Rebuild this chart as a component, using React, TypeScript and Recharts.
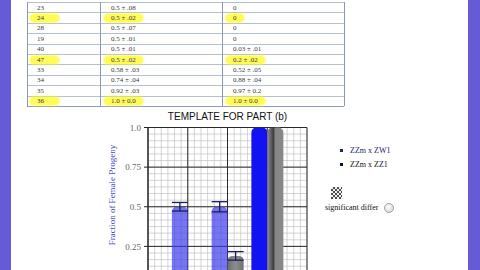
import React from 'react'
import { Bar, BarChart, CartesianGrid, Cell, ErrorBar, XAxis, YAxis } from 'recharts'

// table rows (first column, second column, third column)
const rowIds = ['23', '24', '28', '19', '40', '47', '33', '34', '35', '36']
const colZW = ['0.5 ± .08', '0.5 ± .02', '0.5 ± .07', '0.5 ± .01', '0.5 ± .01', '0.5 ± .02', '0.58 ± .03', '0.74 ± .04', '0.92 ± .03', '1.0 ± 0.0']
const colZZ = ['0', '0', '0', '0', '0.03 ± .01', '0.2 ± .02', '0.52 ± .05', '0.88 ± .04', '0.97 ± 0.2', '1.0 ± 0.0']
const highlighted = ['24', '47', '36']

// chart groups (one per highlighted row)
const groupX = [1, 2, 3]
const zwValues = [0.5, 0.5, 1.0]
const zwErrors = [0.027, 0.032, null]
const zzValues = [0, 0.19, 1.0]
const zzErrors = [null, 0.027, null]

const yTicks = [0.25, 0.5, 0.75, 1]
const yTickLabels = ['0.25', '0.5', '0.75', '1.0']
const seriesNames = ['ZZm x ZW1', 'ZZm x ZZ1']

const zwFills = ['#3c3cec', '#3c3cec', '#1212f2']
const zwOpacity = [0.7, 0.7, 1]
const zzFills = ['url(#grayA)', 'url(#grayA)', 'url(#grayB)']

const data = groupX.map((x, i) => ({
  x,
  zw: zwValues[i],
  zwErr: zwErrors[i],
  zz: zzValues[i],
  zzErr: zzErrors[i]
}))

// graph paper: 6 small squares per major cell (fractions of the plot)
const minorFrac = Array.from({ length: 25 }, (_, i) => i / 24)
const majorFrac = [0, 0.25, 0.5, 0.75, 1]

const serif = '"Liberation Serif", "DejaVu Serif", serif'

const hGen = (fracs: number[]) => ({ offset }: any) => fracs.map((f) => offset.top + offset.height * f)
const vGen = (fracs: number[]) => ({ offset }: any) => fracs.map((f) => offset.left + offset.width * f)

function Table() {
  const rowH = 10.4
  const cols = [0, 73, 195, 317]
  const textX = [10, 84, 206]
  return (
    <div style={{ position: 'absolute', left: 27, top: 2, width: 317, height: rowH * rowIds.length }}>
      {rowIds.map((_, i) => (
        <div
          key={'h' + i}
          style={{ position: 'absolute', left: 0, top: i * rowH, width: 317, height: 0, borderTop: '1px solid #b4bfcf' }}
        />
      ))}
      <div style={{ position: 'absolute', left: 0, top: rowIds.length * rowH, width: 317, borderTop: '1px solid #8f9bb0' }} />
      {cols.map((c, i) => (
        <div
          key={'v' + i}
          style={{ position: 'absolute', left: c, top: 0, height: rowIds.length * rowH, borderLeft: '1px solid #8a98b0' }}
        />
      ))}
      {rowIds.map((id, i) => {
        const hl = highlighted.includes(id)
        const cells = [id, colZW[i], colZZ[i]]
        return cells.map((t, j) => (
          <div
            key={id + j}
            style={{
              position: 'absolute',
              left: textX[j] - (hl ? 7 : 0),
              top: i * rowH + 1.5,
              height: 8,
              lineHeight: '8px',
              fontFamily: serif,
              fontSize: 7,
              color: '#3a3a3a',
              whiteSpace: 'nowrap',
              padding: hl ? (j === 0 ? '0 15px 0 7px' : '0 7px') : 0,
              background: hl ? 'rgba(255, 250, 60, 0.85)' : 'none',
              borderRadius: 5,
              boxShadow: hl ? '0 0 2px 1px rgba(255, 250, 60, 0.6)' : 'none'
            }}
          >
            {t}
          </div>
        ))
      })}
    </div>
  )
}

export default function App() {
  return (
    <div style={{ position: 'absolute', left: 0, top: 0, width: 480, height: 270, overflow: 'hidden', background: '#ffffff' }}>
      <div style={{ position: 'absolute', left: 0, top: 0, width: 11, height: 270, background: '#675ad6' }} />
      <div style={{ position: 'absolute', left: 468, top: 0, width: 12, height: 270, background: '#675ad6' }} />
      <Table />

      <div
        style={{
          position: 'absolute',
          left: 148,
          width: 159,
          top: 111,
          textAlign: 'center',
          fontFamily: '"Liberation Sans", Arial, sans-serif',
          fontSize: 10,
          color: '#111',
          whiteSpace: 'nowrap'
        }}
      >
        TEMPLATE FOR PART (b)
      </div>

      <div
        style={{
          position: 'absolute',
          left: 112,
          top: 195,
          transform: 'translate(-50%, -50%) rotate(-90deg)',
          fontFamily: serif,
          fontSize: 9,
          color: '#4848c8',
          whiteSpace: 'nowrap'
        }}
      >
        Fraction of Female Progeny
      </div>

      <div style={{ position: 'absolute', left: 100, top: 105 }}>
        <BarChart
          width={240}
          height={192}
          data={data}
          margin={{ top: 22.5, right: 33, bottom: 11, left: 18 }}
          barGap={0}
          barSize={16}
        >
          <defs>
            <linearGradient id="grayA" x1="0" y1="0" x2="1" y2="0">
              <stop offset="0%" stopColor="#6f6f6f" />
              <stop offset="50%" stopColor="#8c8c8c" />
              <stop offset="100%" stopColor="#707070" />
            </linearGradient>
            <linearGradient id="grayB" x1="0" y1="0" x2="1" y2="0">
              <stop offset="0%" stopColor="#8e8e8e" />
              <stop offset="25%" stopColor="#5a5a5a" />
              <stop offset="38%" stopColor="#3e3e3e" />
              <stop offset="50%" stopColor="#858585" />
              <stop offset="100%" stopColor="#8a8a8a" />
            </linearGradient>
          </defs>
          <CartesianGrid
            horizontalCoordinatesGenerator={hGen(minorFrac)}
            verticalCoordinatesGenerator={vGen(minorFrac)}
            stroke="#c2c2c2"
            strokeWidth={0.7}
          />
          <CartesianGrid
            horizontalCoordinatesGenerator={hGen(majorFrac)}
            verticalCoordinatesGenerator={vGen(majorFrac)}
            stroke="#2a2a2a"
            strokeWidth={1}
          />
          <XAxis dataKey="x" type="number" domain={[0, 4]} ticks={[0, 1, 2, 3, 4]} hide height={0} />
          <YAxis
            type="number"
            domain={[0, 1]}
            ticks={yTicks}
            width={30}
            tickFormatter={(v) => yTickLabels[yTicks.indexOf(v)] ?? `${v}`}
            tick={{ fill: '#666', fontSize: 9, fontFamily: serif }}
            axisLine={{ stroke: '#222' }}
            tickLine={{ stroke: '#222' }}
            tickSize={4}
            tickMargin={3}
          />
          <Bar dataKey="zw" name={seriesNames[0]} isAnimationActive={false} radius={[5, 5, 0, 0]}>
            {data.map((_, i) => (
              <Cell key={i} fill={zwFills[i]} fillOpacity={zwOpacity[i]} />
            ))}
            <ErrorBar dataKey="zwErr" width={8} stroke="#1c1c5c" strokeWidth={1.3} direction="y" />
          </Bar>
          <Bar dataKey="zz" name={seriesNames[1]} isAnimationActive={false} radius={[5, 5, 0, 0]}>
            {data.map((_, i) => (
              <Cell key={i} fill={zzFills[i]} />
            ))}
            <ErrorBar dataKey="zzErr" width={8} stroke="#1c1c5c" strokeWidth={1.3} direction="y" />
          </Bar>
        </BarChart>
      </div>

      {seriesNames.map((n, i) => (
        <div
          key={n}
          style={{
            position: 'absolute',
            left: 340,
            top: 146 + i * 14,
            fontFamily: serif,
            fontSize: 8,
            color: i === 0 ? '#22226e' : '#111',
            whiteSpace: 'nowrap',
            display: 'flex',
            alignItems: 'center'
          }}
        >
          <span style={{ display: 'inline-block', width: 3, height: 3, background: i === 0 ? '#22226e' : '#111', marginRight: 7 }} />
          {n}
        </div>
      ))}

      <div
        style={{
          position: 'absolute',
          left: 331,
          top: 187,
          width: 11,
          height: 12,
          background: 'repeating-conic-gradient(#222 0% 25%, #eee 0% 50%) 0 0 / 4px 4px',
          opacity: 0.8
        }}
      />
      <div
        style={{
          position: 'absolute',
          left: 325,
          top: 203,
          fontFamily: serif,
          fontSize: 8,
          color: '#111',
          whiteSpace: 'nowrap'
        }}
      >
        significant differ
      </div>
      <div
        style={{
          position: 'absolute',
          left: 384,
          top: 203,
          width: 8,
          height: 8,
          borderRadius: '50%',
          border: '1px solid #a0a0a0',
          background: 'radial-gradient(circle at 40% 35%, #ffffff, #cfcfcf)'
        }}
      />
    </div>
  )
}
